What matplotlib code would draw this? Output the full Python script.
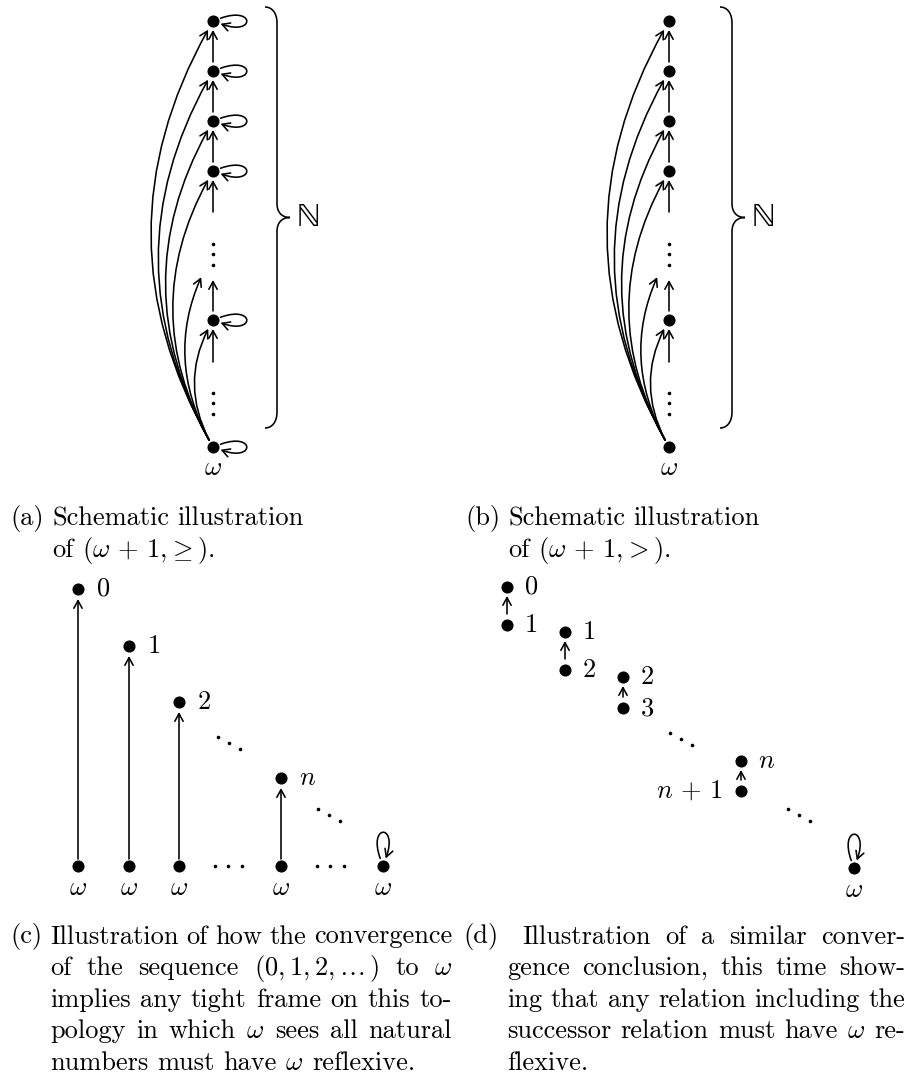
import numpy as np
import matplotlib
matplotlib.use("Agg")
import matplotlib.pyplot as plt
from matplotlib.patches import FancyArrowPatch, PathPatch
from matplotlib.path import Path

plt.rcParams['mathtext.fontset'] = 'cm'
plt.rcParams['axes.unicode_minus'] = False

# ---------------- content ----------------
# panels (a) and (b): natural-number nodes above omega
chain_y = [21, 71, 121, 171, 320]
vdots_y = [254, 403]
omega_y = 447
col_x = [213, 669]                 # (a), (b)
brace_stem_x = [277, 732]
brace_y = (7, 428)
loops_in_panel = [True, False]     # (a) reflexive, (b) irreflexive

# panel (c)
c_labels = ['0', '1', '2', 'n']
c_x = [78, 129, 179, 281]
c_top_y = [589, 646, 702, 778]
c_base_y = 866
c_omega_x = [78, 129, 179, 281, 383]
c_hdots = [(228, 866), (330, 866)]
c_ddots = [(229, 743), (329, 815)]

# panel (d)
d_top_labels = ['0', '1', '2', 'n']
d_bot_labels = ['1', '2', '3', r'n\,+\,1']
d_x = [507, 565, 623, 741]
d_top_y = [587, 632, 677, 761]
d_bot_y = [625, 670, 708, 791]
d_omega = (854, 868)
d_ddots = [(681, 739), (799, 815)]

cap_a = [["Schematic", "illustration"], ["of", r"$(\omega\,+\,1,\!\geq)$."]]
cap_b = [["Schematic", "illustration"], ["of", r"$(\omega\,+\,1,\!>)$."]]
cap_c = [["Illustration", "of", "how", "the", "convergence"],
         ["of", "the", "sequence", r"$(0,1,2,\ldots\,)$", "to", r"$\omega$"],
         ["implies", "any", "tight", "frame", "on", "this", "to-"],
         ["pology", "in", "which", r"$\omega$", "sees", "all", "natural"],
         ["numbers", "must", "have", r"$\omega$", "reflexive."]]
cap_d = [["Illustration", "of", "a", "similar", "conver-"],
         ["gence", "conclusion,", "this", "time", "show-"],
         ["ing", "that", "any", "relation", "including", "the"],
         ["successor", "relation", "must", "have", r"$\omega$", "re-"],
         ["flexive."]]

# ---------------- setup ----------------
W, H = 909, 1079
fig = plt.figure(figsize=(W / 100, H / 100), dpi=100)
ax = fig.add_axes([0, 0, 1, 1])
ax.set_xlim(0, W)
ax.set_ylim(H, 0)
ax.axis('off')
R = fig.canvas.get_renderer()

FS = 19
LW = 1.15
SPACE = 8.75
ARROW = '->,head_length=0.55,head_width=0.3'


def pt(px):
    return px * 72.0 / 100.0


def arrow(p0, p1, s0=9, s1=9, rad=0.0):
    a = FancyArrowPatch(p0, p1, arrowstyle=ARROW,
                        connectionstyle=f'arc3,rad={rad}',
                        shrinkA=pt(s0), shrinkB=pt(s1), lw=LW, color='k',
                        mutation_scale=10, zorder=2)
    ax.add_patch(a)


def loop(cx, cy, phi, r=8, L=37, spread=20):
    ao, ai = np.radians(phi + spread), np.radians(phi - spread)
    uo = np.array([np.cos(ao), -np.sin(ao)])
    ui = np.array([np.cos(ai), -np.sin(ai)])
    c = np.array([cx, cy], float)
    S, E = c + r * uo, c + r * ui
    p = Path([S, S + L * uo, E + L * ui, E],
             [Path.MOVETO, Path.CURVE4, Path.CURVE4, Path.CURVE4])
    ax.add_patch(FancyArrowPatch(path=p, arrowstyle=ARROW, lw=LW, color='k',
                                 mutation_scale=10, zorder=2))


def nodes(xs, ys):
    ax.plot(xs, ys, 'o', ms=8.7, color='k', zorder=3, mew=0)


def dots(cx, cy, dx, dy):
    ax.plot([cx - dx, cx, cx + dx], [cy - dy, cy, cy + dy], 'o', ms=2.6,
            color='k', mew=0, zorder=3)


def brace(xs, y0, y1):
    ym = (y0 + y1) / 2
    v = [(xs - 12, y0), (xs - 5, y0), (xs, y0 + 6), (xs, y0 + 16),
         (xs, ym - 14),
         (xs, ym - 5), (xs + 5, ym), (xs + 13, ym),
         (xs + 5, ym), (xs, ym + 5), (xs, ym + 14),
         (xs, y1 - 16),
         (xs, y1 - 6), (xs - 5, y1), (xs - 12, y1)]
    c = [Path.MOVETO, Path.CURVE4, Path.CURVE4, Path.CURVE4, Path.LINETO,
         Path.CURVE4, Path.CURVE4, Path.CURVE4, Path.CURVE4, Path.CURVE4,
         Path.CURVE4, Path.LINETO, Path.CURVE4, Path.CURVE4, Path.CURVE4]
    ax.add_patch(PathPatch(Path(v, c), fill=False, lw=LW, color='k'))
    ax.text(xs + 20, ym + 1, 'ℕ', fontsize=FS + 5, family='STIXGeneral',
            va='center', ha='left')


def label(x, y, s, ha='left', va='center'):
    ax.text(x, y, s if s.startswith('$') else f'${s}$', fontsize=FS,
            ha=ha, va=va)


def words_line(tokens, x0, y, x1=None):
    ts = [ax.text(0, y, tok, fontsize=FS, family='cmr10', va='baseline',
                  ha='left') for tok in tokens]
    ws = [t.get_window_extent(renderer=R).width for t in ts]
    if x1 is None or len(ts) == 1:
        gap = SPACE
    else:
        gap = (x1 - x0 - sum(ws)) / (len(ts) - 1)
    x = x0
    for t, w in zip(ts, ws):
        t.set_x(x)
        x += w + gap


def caption(tag, tag_x, lines, x_first, x_rest, x_right, y0, justify=True):
    ax.text(tag_x, y0, tag, fontsize=FS, family='cmr10', va='baseline',
            ha='left')
    for i, toks in enumerate(lines):
        last = i == len(lines) - 1
        words_line(toks, x_first if i == 0 else x_rest, y0 + 31.6 * i,
                   None if (last or not justify) else x_right)


# ---------------- panels (a), (b) ----------------
for px, bx, with_loops in zip(col_x, brace_stem_x, loops_in_panel):
    top4 = chain_y[:4]
    for lo, hi in zip(top4[1:], top4[:-1]):
        arrow((px, lo), (px, hi))
    arrow((px, vdots_y[0]), (px, top4[-1]), s0=42, s1=9)
    arrow((px, chain_y[4]), (px, vdots_y[0]), s0=9, s1=26)
    arrow((px, vdots_y[1]), (px, chain_y[4]), s0=41, s1=9)
    for ty in top4:
        arrow((px, omega_y), (px, ty), s0=8, s1=10, rad=-0.29)
    arrow((px, omega_y), (px, vdots_y[0]), s0=8, s1=26, rad=-0.29)
    arrow((px, omega_y), (px, chain_y[4]), s0=8, s1=10, rad=-0.29)
    for vy in vdots_y:
        dots(px, vy, 0, 10.5)
    nodes([px] * 6, chain_y + [omega_y])
    if with_loops:
        for y in chain_y + [omega_y]:
            loop(px, y, 0)
    label(px, omega_y + 21, r'\omega', ha='center')
    brace(bx, *brace_y)

caption('(a)', 10, cap_a, 52, 52, None, 525, justify=False)
caption('(b)', 465, cap_b, 508, 508, None, 525, justify=False)

# ---------------- panel (c) ----------------
for x, ty, lab in zip(c_x, c_top_y, c_labels):
    arrow((x, c_base_y), (x, ty), s0=7, s1=10)
    nodes([x], [ty])
    label(x + 18, ty, lab)
nodes(c_omega_x, [c_base_y] * len(c_omega_x))
for x in c_omega_x:
    label(x, c_base_y + 22, r'\omega', ha='center')
loop(c_omega_x[-1], c_base_y, 90)
for (hx, hy) in c_hdots:
    dots(hx, hy, 13.5, 0)
for (dx_, dy_) in c_ddots:
    dots(dx_, dy_, 11, 6.2)

caption('(c)', 10, cap_c, 50, 50, 452, 943.5)

# ---------------- panel (d) ----------------
for x, ty, by, tl, bl in zip(d_x, d_top_y, d_bot_y, d_top_labels, d_bot_labels):
    arrow((x, by), (x, ty), s0=11, s1=9)
    nodes([x, x], [ty, by])
    label(x + 17, ty, tl)
    if bl.startswith('n'):
        label(x - 19, by, bl, ha='right')
    else:
        label(x + 17, by, bl)
nodes([d_omega[0]], [d_omega[1]])
loop(d_omega[0], d_omega[1], 90)
label(d_omega[0], d_omega[1] + 22, r'\omega', ha='center')
for (dx_, dy_) in d_ddots:
    dots(dx_, dy_, 11, 6.2)

caption('(d)', 463, cap_d, 522, 507, 905, 943.5)

fig.savefig('out.png', dpi=100)
